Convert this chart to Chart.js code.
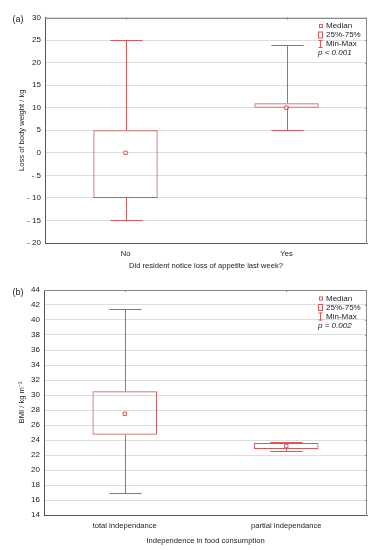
<!DOCTYPE html>
<html><head><meta charset="utf-8">
<script src="https://cdn.jsdelivr.net/npm/chart.js@4"></script>
<style>
html,body{margin:0;padding:0;background:#fff;}
.wrap{position:relative;width:381px;height:275px;}
canvas{display:block;}
</style></head><body>
<div class="wrap"><canvas id="ca" width="381" height="275"></canvas></div>
<div class="wrap"><canvas id="cb" width="381" height="275"></canvas></div>
<script>
// ---- data panel (a)
const catsA = ['No', 'Yes'];
const minA = [-15, 5];
const q1A = [-10, 10];
const medA = [0, 10];
const q3A = [5, 11];
const maxA = [25, 24];
// ---- data panel (b)
const catsB = ['total independance', 'partial independance'];
const minB = [17, 22.5];
const q1B = [24.7, 22.8];
const medB = [27.5, 23.2];
const q3B = [30.5, 23.6];
const maxB = [41.5, 23.8];

const legendLabels = ['Median', '25%-75%', 'Min-Max'];

const RED = '#d25a5a';
const FONT = "'Liberation Sans', Arial, sans-serif";
const FS = 7.6;

function boxChart(id, o) {
  const plugin = {
    id: 'boxextras',
    afterDatasetsDraw(chart) {
      const {ctx, scales: {x, y}, chartArea: a} = chart;
      const meta = chart.getDatasetMeta(1);
      ctx.save();
      ctx.strokeStyle = RED; ctx.lineWidth = 1;
      o.cats.forEach((c, i) => {
        const px = Math.round(x.getPixelForValue(i)) + 0.5;
        const hw = meta.data[i].width / 4;
        const yMax = Math.round(y.getPixelForValue(o.max[i])) + 0.5;
        const yQ3 = y.getPixelForValue(o.q3[i]);
        const yQ1 = y.getPixelForValue(o.q1[i]);
        const yMin = Math.round(y.getPixelForValue(o.min[i])) + 0.5;
        ctx.beginPath();
        ctx.moveTo(px, yMax); ctx.lineTo(px, yQ3);
        ctx.moveTo(px - hw, yMax); ctx.lineTo(px + hw, yMax);
        ctx.moveTo(px, yQ1); ctx.lineTo(px, yMin);
        ctx.moveTo(px - hw, yMin); ctx.lineTo(px + hw, yMin);
        ctx.stroke();
      });
      // frame top/right
      ctx.strokeStyle = '#8a8a8a';
      ctx.beginPath();
      ctx.moveTo(a.left, Math.round(a.top) + 0.5); ctx.lineTo(a.right, Math.round(a.top) + 0.5);
      ctx.moveTo(Math.round(a.right) - 0.5, a.top); ctx.lineTo(Math.round(a.right) - 0.5, a.bottom);
      o.cats.forEach((c, i) => {
        const px = Math.round(x.getPixelForValue(i)) + 0.5;
        ctx.moveTo(px, a.top); ctx.lineTo(px, a.top + 2);
      });
      y.ticks.forEach(t => {
        const py = Math.round(y.getPixelForValue(t.value)) + 0.5;
        ctx.moveTo(a.right, py); ctx.lineTo(a.right - 2, py);
      });
      ctx.stroke();
      // legend
      const lx = a.right - 46;
      const ly = a.top + 8.5;
      ctx.fillStyle = '#222';
      ctx.font = '8px ' + FONT;
      ctx.textBaseline = 'middle';
      ctx.textAlign = 'left';
      legendLabels.forEach((t, k) => ctx.fillText(t, lx + 5, ly + k * 9));
      ctx.strokeStyle = RED;
      ctx.strokeRect(lx - 1.5, ly - 1.5, 3, 3);
      ctx.strokeRect(lx - 2.5, ly + 9 - 3, 4, 6);
      ctx.beginPath();
      ctx.moveTo(lx - 0.5, ly + 18 - 4); ctx.lineTo(lx - 0.5, ly + 18 + 4);
      ctx.moveTo(lx - 2.5, ly + 18 - 3.5); ctx.lineTo(lx + 1.5, ly + 18 - 3.5);
      ctx.moveTo(lx - 2.5, ly + 18 + 3.5); ctx.lineTo(lx + 1.5, ly + 18 + 3.5);
      ctx.stroke();
      ctx.fillStyle = '#222';
      ctx.font = 'italic 8px ' + FONT;
      ctx.fillText(o.pText, lx - 3, ly + 27);
      // panel label
      ctx.font = '9px ' + FONT;
      ctx.textAlign = 'center';
      ctx.fillText(o.panel, 18, a.top + 2.5);
      ctx.restore();
    }
  };
  return new Chart(document.getElementById(id), {
    data: {
      labels: o.cats,
      datasets: [
        {
          type: 'line', data: o.med, showLine: false, order: 0,
          pointStyle: 'rect', pointRadius: 2.4, pointBorderWidth: 1,
          pointBorderColor: RED, pointBackgroundColor: '#fff', borderColor: RED
        },
        {
          type: 'bar', data: o.cats.map((c, i) => [o.q1[i], o.q3[i]]), order: 1,
          backgroundColor: 'rgba(255,255,255,0)', borderColor: RED, borderWidth: 1,
          borderSkipped: false, barPercentage: 0.4, categoryPercentage: 1
        }
      ]
    },
    options: {
      responsive: false, animation: false,
      layout: {padding: {top: o.top, right: 14, left: 0, bottom: 0}},
      plugins: {legend: {display: false}, tooltip: {enabled: false}},
      scales: {
        x: {
          offset: true,
          afterFit: s => { s.height = o.xh; },
          grid: {display: false, drawTicks: true, tickLength: 2, offset: false},
          border: {color: '#555', width: 1},
          ticks: {font: {size: FS, family: FONT}, color: '#222', padding: 4, maxRotation: 0},
          title: {display: true, text: o.xTitle, font: {size: FS, family: FONT}, color: '#222', padding: {top: 0, bottom: 5}}
        },
        y: {
          min: o.yMin, max: o.yMax,
          afterFit: s => { s.width = o.left; },
          grid: {color: '#dedede', lineWidth: 1, drawTicks: false},
          border: {color: '#555', width: 1},
          ticks: {stepSize: o.step, font: {size: 8, family: FONT}, color: '#222', padding: 4,
            callback: v => v < 0 ? '- ' + Math.abs(v) : String(v)},
          title: {display: true, text: o.yTitle, font: {size: FS, family: FONT}, color: '#222', padding: {top: 17.5, bottom: 0}}
        }
      }
    },
    plugins: [plugin]
  });
}

boxChart('ca', {
  cats: catsA, min: minA, q1: q1A, med: medA, q3: q3A, max: maxA,
  yMin: -20, yMax: 30, step: 5, top: 17.5, left: 45, xh: 32,
  yTitle: 'Loss of body weight / kg',
  xTitle: 'Did resident notice loss of appetite last week?',
  panel: '(a)', pText: 'p < 0.001'
});
boxChart('cb', {
  cats: catsB, min: minB, q1: q1B, med: medB, q3: q3B, max: maxB,
  yMin: 14, yMax: 44, step: 2, top: 15, left: 44, xh: 35,
  yTitle: 'BMI / kg m\u207B\u00B2',
  xTitle: 'Independence in food consumption',
  panel: '(b)', pText: 'p = 0.002'
});
</script>
</body></html>
